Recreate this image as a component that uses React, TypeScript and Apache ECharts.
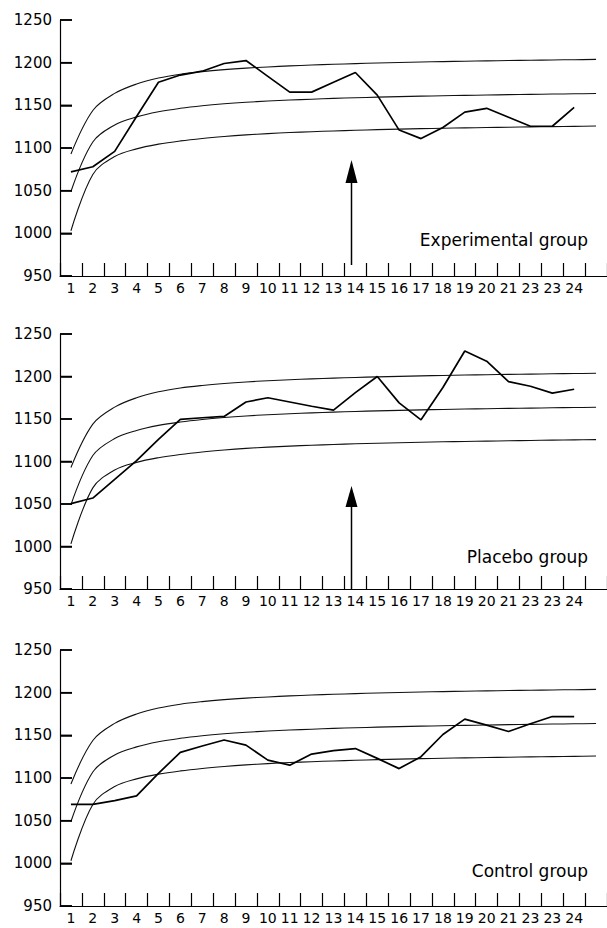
import React, { useEffect, useRef } from "react";
import * as echarts from "echarts";

const categories = ["1","2","3","4","5","6","7","8","9","10","11","12","13","14","15","16","17","18","19","20","21","23","23","24",""];

const upperCurve = [1093,1144,1164,1175,1182,1186.5,1189.5,1191.8,1193.6,1195,1196.2,1197.2,1198.1,1198.9,1199.6,1200.2,1200.75,1201.25,1201.7,1202.1,1202.5,1202.85,1203.2,1203.5,1203.8];
const middleCurve = [1049,1107,1127,1136.5,1142.5,1146.5,1149.5,1151.8,1153.6,1155,1156.2,1157.2,1158.1,1158.9,1159.6,1160.2,1160.75,1161.25,1161.7,1162.1,1162.5,1162.85,1163.2,1163.5,1163.8];
const lowerCurve = [1003,1069,1090,1099,1104.5,1108.3,1111.2,1113.5,1115.4,1116.9,1118.1,1119.1,1120,1120.8,1121.5,1122.1,1122.65,1123.15,1123.6,1124,1124.4,1124.75,1125.1,1125.4,1125.7];

const experimental = [1072,1078,1096,1137,1177,1185.5,1190,1199,1202.5,1184,1165.5,1165.5,1177,1188.5,1162,1121,1111,1124,1142,1146.5,1136,1125.5,1125.5,1147.5];
const placebo = [1050.5,1057,1079,1101,1126,1149.5,1151.5,1153,1170,1175,1170,1165,1160.5,1181,1200,1169,1149,1187,1230,1218,1194,1188.5,1180.5,1185];
const control = [1069,1069,1073.5,1079,1105.5,1130,1137.5,1144.5,1138.5,1121,1115,1128,1132,1134.5,1123,1111,1125,1151,1169,1162,1154.5,1163.5,1172,1172];

const yTickValues = [950, 1000, 1050, 1100, 1150, 1200, 1250];
const yTicks = { min: 950, max: 1250, interval: 50 };
const groupNames = ["Experimental group", "Placebo group", "Control group"];
const groupData = [experimental, placebo, control];

const FONT = "DejaVu Sans";
const gridTops = [20, 334, 650];
const gridHeights = [256, 255, 256];
const labelY = [240, 556.5, 870.5];
const GRID_LEFT = 60;

export default function App() {
  const ref = useRef<HTMLDivElement>(null);
  useEffect(() => {
    if (!ref.current) return;
    const chart = echarts.init(ref.current, undefined, { renderer: "svg" });
    const grids = gridTops.map((t, i) => ({ left: GRID_LEFT, top: t, width: 550, height: gridHeights[i] }));
    const xAxes = grids.map((_, i) => ({
      type: "category",
      gridIndex: i,
      data: categories,
      boundaryGap: true,
      axisLine: { show: true, lineStyle: { color: "#000", width: 1.2 } },
      axisTick: { show: true, inside: true, length: 13, interval: 0, lineStyle: { color: "#000", width: 1.2 } },
      axisLabel: { show: true, interval: 0, color: "#000", fontSize: 14, fontFamily: FONT, margin: 5 },
      splitLine: { show: false },
    }));
    const yAxes = grids.map((_, i) => ({
      type: "value",
      gridIndex: i,
      min: yTicks.min,
      max: yTicks.max,
      interval: yTicks.interval,
      axisLine: { show: true, lineStyle: { color: "#000", width: 1.2 } },
      axisTick: { show: true, inside: true, length: 12, lineStyle: { color: "#000", width: 1.5 } },
      axisLabel: { color: "#000", fontSize: 15, fontFamily: FONT, margin: 8, formatter: (v: number) => String(v) },
      splitLine: { show: false },
    }));
    const series: any[] = [];
    grids.forEach((_, i) => {
      [upperCurve, middleCurve, lowerCurve].forEach((c) => {
        series.push({
          type: "line",
          xAxisIndex: i,
          yAxisIndex: i,
          data: c,
          smooth: 0.35,
          symbol: "none",
          lineStyle: { color: "#111", width: 1.1 },
          silent: true,
        });
      });
      series.push({
        type: "line",
        xAxisIndex: i,
        yAxisIndex: i,
        data: groupData[i],
        symbol: "none",
        lineStyle: { color: "#000", width: 1.7 },
        silent: true,
      });
    });
    const graphic: any[] = [];
    groupNames.forEach((n, i) => {
      graphic.push({
        type: "text",
        x: 588,
        y: labelY[i],
        style: { text: n, fill: "#000", font: `17px ${FONT}`, textAlign: "right", textVerticalAlign: "middle" },
      });
    });
    const arrows = [
      { x: 351.5, tip: 160, base: 183, bottom: 265 },
      { x: 351.5, tip: 486, base: 507, bottom: 589 },
    ];
    arrows.forEach((a) => {
      graphic.push({
        type: "line",
        shape: { x1: a.x, y1: a.bottom, x2: a.x, y2: a.base - 2 },
        style: { stroke: "#000", lineWidth: 1.5 },
      });
      graphic.push({
        type: "polygon",
        shape: { points: [[a.x, a.tip], [a.x - 6, a.base], [a.x + 6, a.base]] },
        style: { fill: "#000" },
      });
    });
    // inward y-axis ticks, positioned from each grid's value range
    gridTops.forEach((t, i) => {
      yTickValues.forEach((v) => {
        const py = t + (gridHeights[i] * (yTicks.max - v)) / (yTicks.max - yTicks.min);
        graphic.push({
          type: "line",
          z: 100,
          shape: { x1: GRID_LEFT, y1: py, x2: GRID_LEFT + 12, y2: py },
          style: { stroke: "#000", lineWidth: 1.5 },
        });
      });
    });
    chart.setOption({
      animation: false,
      backgroundColor: "#fff",
      grid: grids,
      xAxis: xAxes,
      yAxis: yAxes,
      series,
      graphic,
    });
    return () => chart.dispose();
  }, []);
  return <div ref={ref} style={{ position: "absolute", left: 0, top: 0, width: 607, height: 928, background: "#fff" }} />;
}
